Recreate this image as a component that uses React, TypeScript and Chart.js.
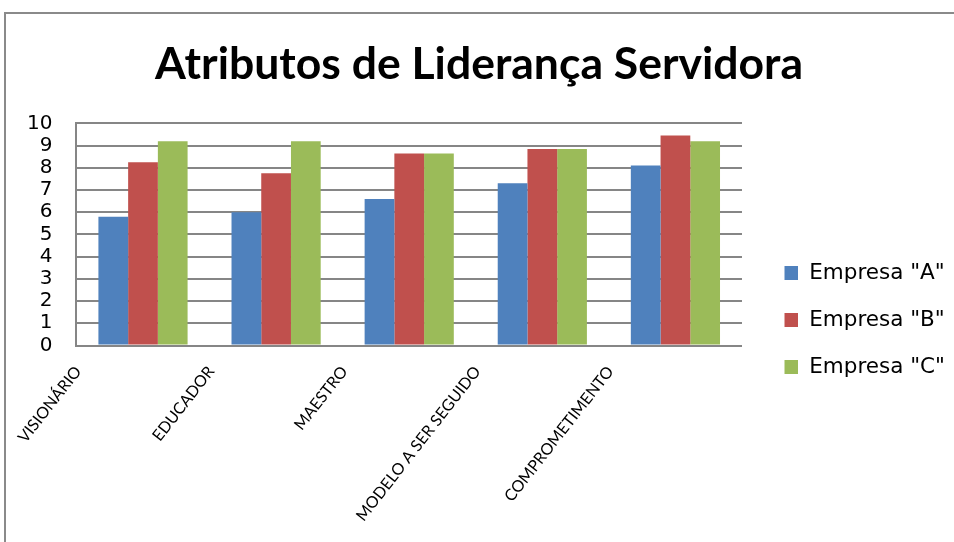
import React, { useEffect, useRef } from "react";
import { Chart, registerables } from "chart.js";

Chart.register(...registerables);

const categories = ["VISIONÁRIO", "EDUCADOR", "MAESTRO", "MODELO A SER SEGUIDO", "COMPROMETIMENTO"];
const seriesNames = ['Empresa "A"', 'Empresa "B"', 'Empresa "C"'];
const empresaA = [5.8, 6.0, 6.6, 7.3, 8.1];
const empresaB = [8.25, 7.75, 8.65, 8.85, 9.45];
const empresaC = [9.2, 9.2, 8.65, 8.85, 9.2];
const colors = ["#4F81BD", "#C0504D", "#9BBB59"];
const titleText = "Atributos de Liderança Servidora";

// legend marker: a 14px square drawn at the right end of a wider transparent strip
function makeMarker(color: string) {
  const c = document.createElement("canvas");
  c.width = 31;
  c.height = 14;
  const g = c.getContext("2d")!;
  g.fillStyle = color;
  g.fillRect(17, 0, 14, 14);
  return c;
}

const framePlugin = {
  id: "frame",
  beforeDraw(chart: any) {
    const ctx = chart.ctx;
    ctx.save();
    ctx.fillStyle = "#ffffff";
    ctx.fillRect(0, 0, chart.width, chart.height);
    ctx.strokeStyle = "#8a8a8a";
    ctx.lineWidth = 2;
    ctx.beginPath();
    ctx.moveTo(5, chart.height);
    ctx.lineTo(5, 13);
    ctx.lineTo(chart.width, 13);
    ctx.stroke();
    ctx.restore();
  },
};

export default function App() {
  const ref = useRef<HTMLCanvasElement>(null);
  useEffect(() => {
    if (!ref.current) return;
    const chart = new Chart(ref.current, {
      type: "bar",
      data: {
        labels: categories,
        datasets: [empresaA, empresaB, empresaC].map((d, i) => ({
          label: seriesNames[i],
          data: d,
          backgroundColor: colors[i],
          borderWidth: 0,
          categoryPercentage: 0.67,
          barPercentage: 1,
          pointStyle: makeMarker(colors[i]),
        })),
      },
      options: {
        animation: false,
        responsive: false,
        devicePixelRatio: 1,
        layout: { padding: { left: 3, right: -1, top: 98, bottom: 0 } },
        plugins: {
          legend: {
            display: true,
            position: "right",
            labels: {
              color: "#000000",
              font: { family: "DejaVu Sans", size: 21.5 },
              usePointStyle: true,
              pointStyleWidth: 31,
              boxHeight: 14,
              padding: 25.5,
            },
          },
          tooltip: { enabled: false },
          title: {
            display: true,
            text: titleText,
            color: "#000000",
            font: { family: "Lato", size: 44.5, weight: "bold" },
            padding: { top: -60, bottom: 32 },
          },
        },
        scales: {
          x: {
            grid: { display: false, drawTicks: false },
            border: { display: true, color: "#868686", width: 2 },
            ticks: {
              color: "#000000",
              font: { family: "Lato", size: 16 },
              minRotation: 52,
              maxRotation: 52,
              autoSkip: false,
              padding: 17,
              labelOffset: -65,
            },
          },
          y: {
            min: 0,
            max: 10,
            grid: { color: "#868686", lineWidth: 2, drawTicks: false },
            border: { display: true, color: "#868686", width: 2 },
            ticks: {
              stepSize: 1,
              autoSkip: false,
              color: "#000000",
              font: { family: "DejaVu Sans", size: 20, lineHeight: 1 },
              padding: 24,
            },
          },
        },
      },
      plugins: [framePlugin],
    });
    return () => chart.destroy();
  }, []);
  return (
    <div style={{ position: "fixed", left: 0, top: 0, width: 954, height: 542 }}>
      <canvas ref={ref} width={954} height={542} style={{ display: "block", width: 954, height: 542 }} />
    </div>
  );
}
